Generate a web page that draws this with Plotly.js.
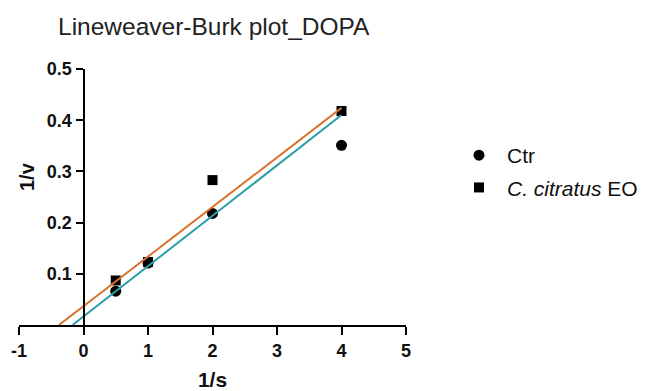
<!DOCTYPE html>
<html>
<head>
<meta charset="utf-8">
<script src="https://cdn.plot.ly/plotly-3.0.1.min.js"></script>
<style>html,body{margin:0;padding:0;background:#fff;}#chart{width:648px;height:391px;}</style>
</head>
<body>
<div id="chart"></div>
<script>
// Data
const invS = [0.5, 1, 2, 4];
const ctrInvV = [0.066, 0.121, 0.218, 0.351];
const eoInvV = [0.087, 0.123, 0.283, 0.418];
// Fitted regression lines (end points)
const ctrFitX = [-0.17, 4];
const ctrFitY = [0, 0.41];
const eoFitX = [-0.38, 4];
const eoFitY = [0, 0.424];
const seriesNames = ['Ctr', '<i>C. citratus</i> EO'];
const xTicks = [-1, 0, 1, 2, 3, 4, 5];
const yTicks = [0.1, 0.2, 0.3, 0.4, 0.5];

const FONT = 'Liberation Sans, Arial, sans-serif';

const traces = [
  {x: invS, y: ctrInvV, mode: 'markers', name: seriesNames[0], legendgroup: 'a',
   marker: {symbol: 'circle', size: 11, color: '#000'}, cliponaxis: false},
  {x: invS, y: eoInvV, mode: 'markers', name: seriesNames[1], legendgroup: 'b',
   marker: {symbol: 'square', size: 10, color: '#000'}, cliponaxis: false},
  {x: ctrFitX, y: ctrFitY, mode: 'lines', showlegend: false,
   line: {color: '#2B9EA6', width: 2}},
  {x: eoFitX, y: eoFitY, mode: 'lines', showlegend: false,
   line: {color: '#D8732F', width: 2}}
];

const layout = {
  width: 648, height: 391,
  margin: {l: 19, r: 242, t: 69, b: 66, autoexpand: false},
  paper_bgcolor: '#fff', plot_bgcolor: '#fff',
  font: {family: FONT, color: '#000'},
  title: {text: 'Lineweaver-Burk plot_DOPA', font: {family: FONT, size: 24.5, color: '#222'},
          xref: 'container', yref: 'container', x: 58/648, xanchor: 'left', y: 1 - 26/391, yanchor: 'middle'},
  xaxis: {range: [-1, 5], tickvals: xTicks, ticktext: xTicks.map(String),
          showline: true, linecolor: '#000', linewidth: 2, ticks: 'outside', ticklen: 8, tickwidth: 2, tickcolor: '#000',
          showgrid: false, zeroline: false,
          tickfont: {family: FONT, size: 18, weight: 'bold', color: '#111'},
          title: {text: '1/s', font: {family: FONT, size: 21, weight: 'bold', color: '#111'}, standoff: 20}},
  yaxis: {range: [0, 0.5], tickvals: yTicks, ticktext: yTicks.map(v => v.toFixed(1)),
          anchor: 'free', position: 1/6,
          showline: true, linecolor: '#000', linewidth: 2, ticks: 'outside', ticklen: 7, tickwidth: 2, tickcolor: '#000',
          showgrid: false, zeroline: false,
          tickfont: {family: FONT, size: 18, weight: 'bold', color: '#111'}},
  annotations: [
    {text: '1/v', textangle: -90, xref: 'paper', yref: 'paper', x: (27-19)/387, y: (325-177)/256,
     xanchor: 'center', yanchor: 'middle', showarrow: false,
     font: {family: FONT, size: 20, weight: 'bold', color: '#111'}}
  ],
  showlegend: true,
  legend: {xref: 'container', yref: 'container', x: 451/648, y: 1 - 135/391, xanchor: 'left', yanchor: 'top',
           traceorder: 'grouped', tracegroupgap: 2, itemwidth: 46,
           font: {family: FONT, size: 21, color: '#111'}, bgcolor: 'rgba(0,0,0,0)'}
};

Plotly.newPlot('chart', traces, layout, {displayModeBar: false, staticPlot: true});
</script>
</body>
</html>
